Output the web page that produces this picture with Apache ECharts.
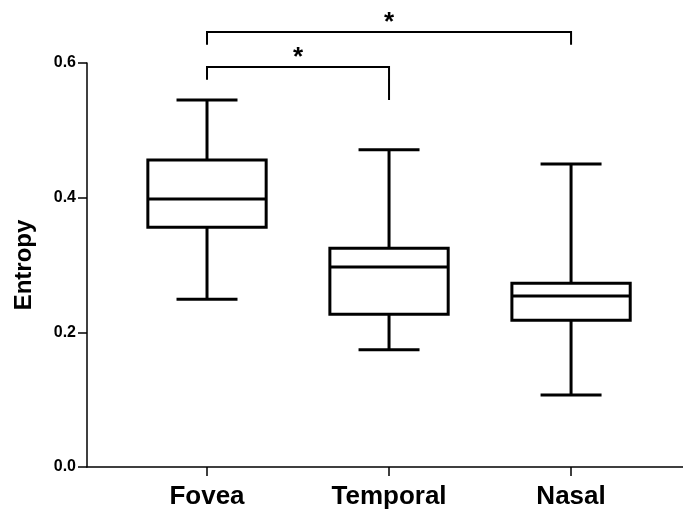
<!DOCTYPE html>
<html><head><meta charset="utf-8">
<script src="https://cdn.jsdelivr.net/npm/echarts@6/dist/echarts.min.js"></script>
<style>html,body{margin:0;padding:0;background:#fff}#c{width:683px;height:510px}</style>
</head><body><div id="c"></div>
<script>
const categories = ['Fovea', 'Temporal', 'Nasal'];
// [min, Q1, median, Q3, max]
const fovea = [0.249, 0.356, 0.398, 0.456, 0.545];
const temporal = [0.174, 0.227, 0.297, 0.325, 0.471];
const nasal = [0.107, 0.218, 0.254, 0.273, 0.450];
const yTicks = [0, 0.2, 0.4, 0.6];
// significance brackets: [fromIndex, toIndex, barY, leftEndY, rightEndY]
const brackets = [
  [0, 2, 0.646, 0.627, 0.627],
  [0, 1, 0.594, 0.575, 0.545]
];
const sigLabels = ['*', '*'];

const boxes = [fovea, temporal, nasal];
const boxData = boxes.map((b, i) => [i + 1].concat(b));
const bracketData = brackets.map(b => [b[0] + 1, b[1] + 1, b[2], b[3], b[4]]);
const font = '"Liberation Sans", Arial, Helvetica, sans-serif';
const chart = echarts.init(document.getElementById('c'));
chart.setOption({
  animation: false,
  grid: {left: 87, right: 0, top: 63, bottom: 43, containLabel: false},
  xAxis: {
    type: 'value', min: 0.3407, max: 3.615,
    splitLine: {show: false},
    axisLine: {show: true, onZero: false, lineStyle: {color: '#000', width: 1.5}},
    axisTick: {show: true, customValues: [1, 2, 3], length: 9, lineStyle: {color: '#000', width: 1.5}},
    axisLabel: {customValues: [1, 2, 3], formatter: v => categories[Math.round(v) - 1] || '',
      color: '#000', fontFamily: font, fontWeight: 'bold', fontSize: 26, margin: 17}
  },
  yAxis: {
    type: 'value', min: 0, max: 0.6, interval: 0.2,
    name: 'Entropy', nameLocation: 'middle', nameGap: 51, nameRotate: 90,
    nameTextStyle: {color: '#000', fontFamily: font, fontWeight: 'bold', fontSize: 24},
    splitLine: {show: false},
    axisLine: {show: true, lineStyle: {color: '#000', width: 1.5}},
    axisTick: {show: true, length: 9, lineStyle: {color: '#000', width: 1.5}},
    axisLabel: {color: '#000', fontFamily: font, fontWeight: 'bold', fontSize: 16, margin: 11,
      formatter: v => yTicks.some(t => Math.abs(t - v) < 1e-9) ? v.toFixed(1) : ''}
  },
  series: [
    {
      type: 'custom', clip: false, data: boxData,
      renderItem: function (params, api) {
        const x = api.value(0);
        const mn = api.coord([x, api.value(1)]);
        const q1 = api.coord([x, api.value(2)]);
        const md = api.coord([x, api.value(3)]);
        const q3 = api.coord([x, api.value(4)]);
        const mx = api.coord([x, api.value(5)]);
        const unit = api.size([1, 0])[0];
        const hw = unit * 0.65 / 2;
        const cw = unit * 0.335 / 2;
        const st = {stroke: '#000', lineWidth: 3, fill: null};
        return {type: 'group', children: [
          {type: 'line', shape: {x1: mn[0], y1: mn[1], x2: q1[0], y2: q1[1]}, style: st},
          {type: 'line', shape: {x1: q3[0], y1: q3[1], x2: mx[0], y2: mx[1]}, style: st},
          {type: 'line', shape: {x1: mn[0] - cw, y1: mn[1], x2: mn[0] + cw, y2: mn[1]}, style: st},
          {type: 'line', shape: {x1: mx[0] - cw, y1: mx[1], x2: mx[0] + cw, y2: mx[1]}, style: st},
          {type: 'rect', shape: {x: q3[0] - hw, y: q3[1], width: 2 * hw, height: q1[1] - q3[1]}, style: {stroke: '#000', lineWidth: 3, fill: '#fff'}},
          {type: 'line', shape: {x1: md[0] - hw, y1: md[1], x2: md[0] + hw, y2: md[1]}, style: st}
        ]};
      }
    },
    {
      type: 'custom', clip: false, data: bracketData,
      renderItem: function (params, api) {
        const x1 = api.value(0), x2 = api.value(1);
        const a = api.coord([x1, api.value(3)]);
        const b = api.coord([x1, api.value(2)]);
        const c = api.coord([x2, api.value(2)]);
        const d = api.coord([x2, api.value(4)]);
        return {type: 'group', children: [
          {type: 'polyline', shape: {points: [a, b, c, d]}, style: {stroke: '#000', lineWidth: 2, fill: null}},
          {type: 'text', x: (b[0] + c[0]) / 2, y: b[1] + 4, style: {text: sigLabels[params.dataIndex], fill: '#000', font: 'bold 26px ' + font, align: 'center', verticalAlign: 'bottom'}}
        ]};
      }
    }
  ]
});
</script></body></html>
